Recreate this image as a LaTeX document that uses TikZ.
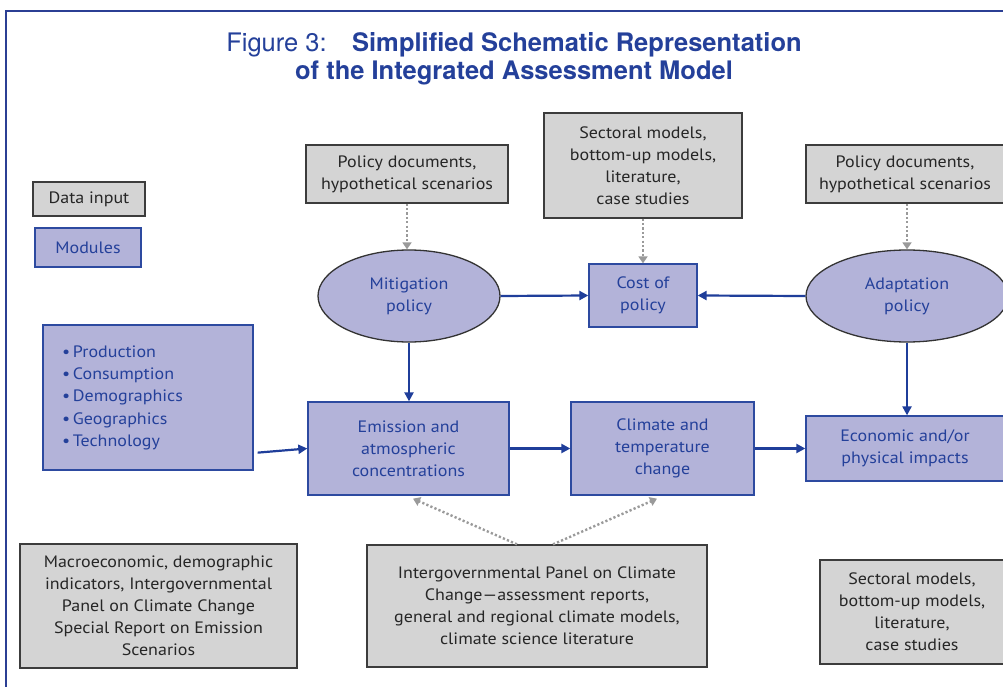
\documentclass[tikz,border=0pt]{standalone}
\usepackage{fontspec}
\setmainfont[FakeStretch=1.09]{PT Sans}
\newfontfamily\titlefont{TeX Gyre Heros}
\usetikzlibrary{shapes.geometric,arrows.meta}
\definecolor{frameblue}{HTML}{2B3F94}
\definecolor{txtblue}{HTML}{24409A}
\definecolor{modfill}{HTML}{B3B3D9}
\definecolor{modline}{HTML}{2D4AA0}
\definecolor{datafill}{HTML}{D4D4D4}
\definecolor{dataline}{HTML}{3C3C3C}
\definecolor{arrowblue}{HTML}{1F3E9A}
\definecolor{dotgray}{HTML}{9A9A9A}
\begin{document}
\begin{tikzpicture}[x=1pt,y=-1pt,
  font=\fontsize{16.5}{22}\selectfont,
  databox/.style={draw=dataline, fill=datafill, line width=1.3pt, inner sep=0pt, align=center, text=black!85},
  modbox/.style={draw=modline, fill=modfill, line width=1.3pt, inner sep=0pt, align=center, text=txtblue},
  modell/.style={ellipse, draw=black!80, fill=modfill, line width=1.3pt, inner sep=0pt, align=center, text=txtblue},
  flow/.style={draw=arrowblue, line width=2.2pt, -{Triangle[length=9pt,width=9pt]}},
  feed/.style={draw=dotgray, line width=2.4pt, dash pattern=on 2.2pt off 2.2pt, -{Triangle[length=7pt,width=9pt]}}]
\clip (0,0) rectangle (1003,687);
\useasboundingbox (0,0) rectangle (1003,687);
\fill[white] (0,0) rectangle (1003,687);
% frame
\draw[frameblue, line width=1.8pt] (6,700) -- (6,11) -- (1010,11);
% title
\node[text=txtblue, font=\titlefont\fontsize{25.5}{28.5}\selectfont, align=center] (title) at (514,59)
  {Figure 3:\quad\textbf{Simplified Schematic Representation}\\\textbf{of the Integrated Assessment Model}};
% legend
\node[databox, minimum width=112, minimum height=34] (leg1) at (89,199) {Data input};
\node[modbox, minimum width=106, minimum height=39] (leg2) at (88,247.5) {Modules};
% data input boxes
\node[databox, minimum width=202, minimum height=58] (pol1) at (407,174) {Policy documents,\\hypothetical scenarios};
\node[databox, minimum width=198, minimum height=105] (sec1) at (643,165.5) {Sectoral models,\\bottom-up models,\\literature,\\case studies};
\node[databox, minimum width=198, minimum height=58] (pol2) at (905,174) {Policy documents,\\hypothetical scenarios};
% policies
\node[modell, minimum width=182, minimum height=92] (mit) at (409,296) {Mitigation\\policy};
\node[modbox, minimum width=108, minimum height=63] (cost) at (643,295.5) {Cost of\\policy};
\node[modell, minimum width=202, minimum height=92] (adapt) at (907,296) {Adaptation\\policy};
% modules row
\node[modbox, minimum width=210, minimum height=145, align=left] (bul) at (148,397.5)
  {\hspace*{19pt}\begin{tabular}{@{}l@{}}\textbullet\,Production\\[0.3pt]\textbullet\,Consumption\\[0.3pt]\textbullet\,Demographics\\[0.3pt]\textbullet\,Geographics\\[0.3pt]\textbullet\,Technology\end{tabular}\hspace*{70pt}};
\node[modbox, minimum width=201, minimum height=93] (emis) at (408.5,448.5) {Emission and\\atmospheric\\concentrations};
\node[modbox, minimum width=183, minimum height=93] (clim) at (662.5,448.5) {Climate and\\temperature\\change};
\node[modbox, minimum width=198, minimum height=65] (econ) at (905,448.5) {Economic and/or\\physical impacts};
% bottom data
\node[databox, minimum width=277, minimum height=124] (macro) at (158.5,606) {Macroeconomic, demographic\\indicators, Intergovernmental\\Panel on Climate Change\\Special Report on Emission\\Scenarios};
\node[databox, minimum width=340, minimum height=122] (ipcc) at (537,606) {Intergovernmental Panel on Climate\\Change---assessment reports,\\general and regional climate models,\\climate science literature};
\node[databox, minimum width=184, minimum height=104] (sec2) at (912,612) {Sectoral models,\\bottom-up models,\\literature,\\case studies};
% flows
\draw[flow] (mit.east) -- (cost.west);
\draw[flow] (adapt.west) -- (cost.east);
\draw[flow] (mit.south) -- (mit.south |- emis.north);
\draw[flow] (adapt.south) -- (adapt.south |- econ.north);
\coordinate (bulout) at ([xshift=4pt,yshift=18pt]bul.south east);
\draw[flow] (bulout) -- (emis.west);
\draw[flow] (emis.east) -- (clim.west);
\draw[flow] (clim.east) -- (econ.west);
% feeds
\draw[feed] (pol1.south) -- (pol1.south |- mit.north);
\draw[feed] (sec1.south) -- (cost.north);
\draw[feed] (adapt.north |- pol2.south) -- (adapt.north);
\coordinate (ipccL) at ([xshift=-20pt]ipcc.north);
\coordinate (ipccR) at ([xshift=16pt]ipcc.north);
\coordinate (emisT) at ([xshift=4.5pt,yshift=-3pt]emis.south);
\coordinate (climT) at ([xshift=-5.5pt,yshift=-3pt]clim.south);
\draw[feed] (ipccL) -- (emisT);
\draw[feed] (ipccR) -- (climT);
\end{tikzpicture}
\end{document}
